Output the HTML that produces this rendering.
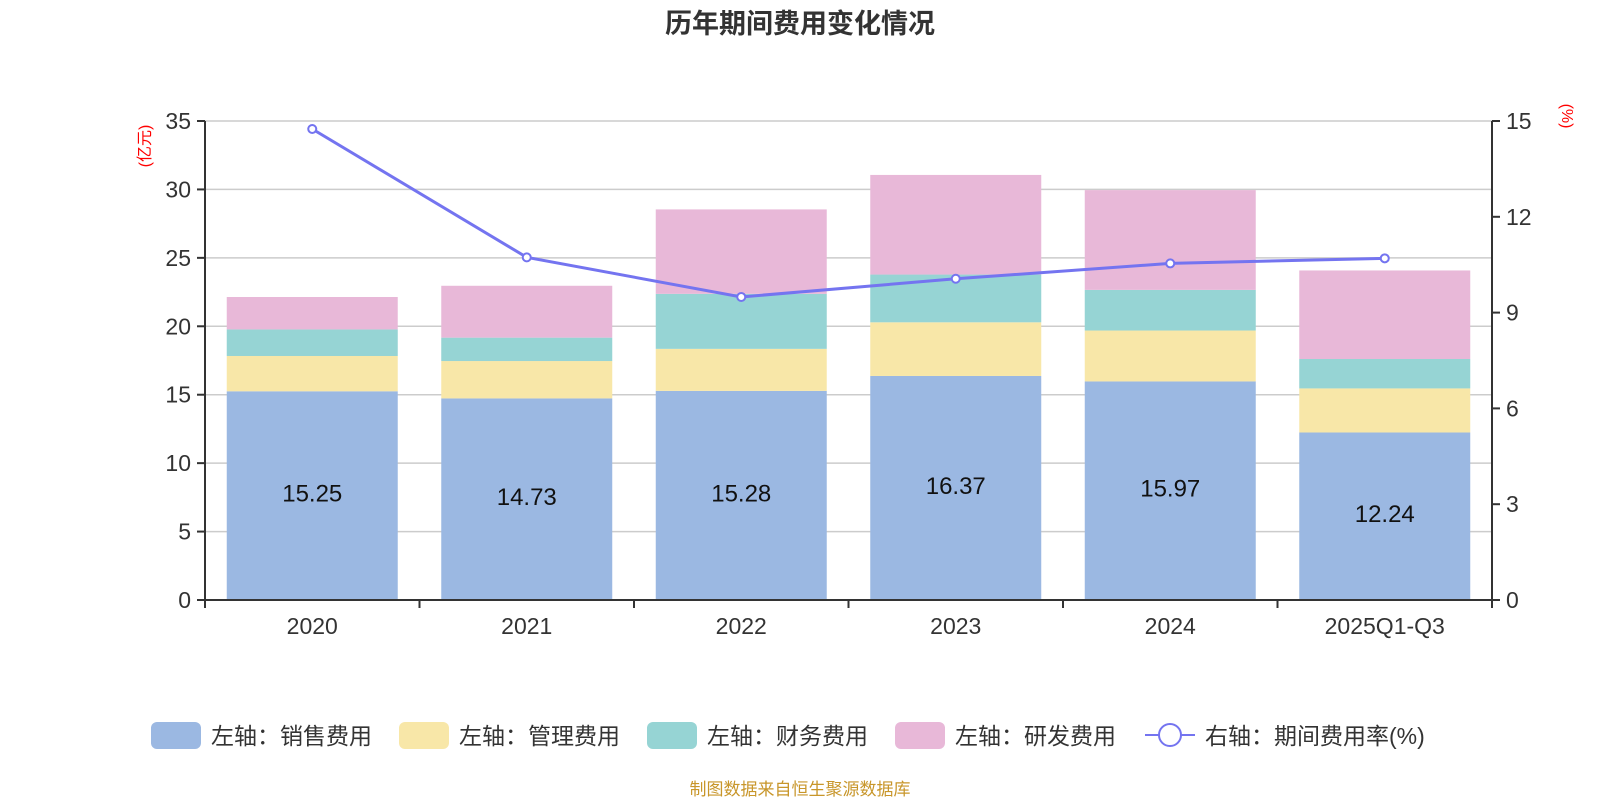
<!DOCTYPE html>
<html><head><meta charset="utf-8">
<style>
body{margin:0;background:#fff;font-family:"Liberation Sans","Noto Sans CJK SC",sans-serif;}
</style></head>
<body>
<svg id="c" width="1600" height="800" xmlns="http://www.w3.org/2000/svg" font-family="Liberation Sans, Noto Sans CJK SC, sans-serif"></svg>
<script>
const categories=["2020","2021","2022","2023","2024","2025Q1-Q3"];
const sales=[15.25,14.73,15.28,16.37,15.97,12.24];
const mgmt=[2.58,2.73,3.07,3.92,3.72,3.22];
const fin=[1.94,1.71,4.02,3.49,2.97,2.15];
const rd=[2.37,3.79,6.17,7.28,7.29,6.47];
const rate=[14.75,10.73,9.49,10.06,10.54,10.70];
const leftTicks=[0,5,10,15,20,25,30,35];
const rightTicks=[0,3,6,9,12,15];

const NS="http://www.w3.org/2000/svg";
const svg=document.getElementById('c');
const X0=205,X1=1492,Y0=600,Y1=121;
const band=(X1-X0)/categories.length;
const yL=v=>Y0-(v/35)*(Y0-Y1);
const yR=v=>Y0-(v/15)*(Y0-Y1);
const xC=i=>X0+band*(i+0.5);
function el(t,a,txt){const e=document.createElementNS(NS,t);for(const k in a)e.setAttribute(k,a[k]);if(txt!==undefined)e.textContent=txt;svg.appendChild(e);return e;}

let t=el('text',{x:800,y:33,'text-anchor':'middle','font-size':27,'font-weight':'bold',fill:'#333'},'历年期间费用变化情况');



leftTicks.forEach(v=>{
  const g=el('line',{x1:X0,x2:X1,y1:yL(v),y2:yL(v),stroke:'#ccc','stroke-width':1.5});
  
  
  el('line',{x1:X0-8,x2:X0,y1:yL(v),y2:yL(v),stroke:'#333','stroke-width':2});
  const l=el('text',{x:X0-14,y:yL(v)+8,'text-anchor':'end','font-size':23,fill:'#333'},v);
  
  
});
rightTicks.forEach(v=>{
  el('line',{x1:X1,x2:X1+8,y1:yR(v),y2:yR(v),stroke:'#333','stroke-width':2});
  const l=el('text',{x:X1+14,y:yR(v)+8,'text-anchor':'start','font-size':23,fill:'#333'},v);
  
  
});

const series=[[sales,'#9bb8e2','sales'],[mgmt,'#f8e7a8','mgmt'],[fin,'#96d4d4','finance'],[rd,'#e8b8d8','rd']];
categories.forEach((c,i)=>{
  let base=0;
  series.forEach(([arr,col,nm])=>{
    const r=el('rect',{x:xC(i)-85.5,width:171,y:yL(base+arr[i]),height:yL(base)-yL(base+arr[i]),fill:col});
    
    
    base+=arr[i];
  });
  const v=el('text',{x:xC(i),y:yL(sales[i]/2)+6,'text-anchor':'middle','font-size':24,fill:'#111'},sales[i].toFixed(2));
  
  
  const xl=el('text',{x:xC(i),y:Y0+34,'text-anchor':'middle','font-size':23,fill:'#333'},c);
  
  
});
for(let i=0;i<=categories.length;i++){el('line',{x1:X0+band*i,x2:X0+band*i,y1:Y0,y2:Y0+8,stroke:'#333','stroke-width':2});}
el('line',{x1:X0,x2:X0,y1:Y1,y2:Y0,stroke:'#333','stroke-width':2});
el('line',{x1:X1,x2:X1,y1:Y1,y2:Y0,stroke:'#333','stroke-width':2});
el('line',{x1:X0,x2:X1,y1:Y0,y2:Y0,stroke:'#333','stroke-width':2});

const pl=el('polyline',{points:rate.map((v,i)=>xC(i)+','+yR(v)).join(' '),fill:'none',stroke:'#7474f0','stroke-width':3});


rate.forEach((v,i)=>{
  const p=el('circle',{cx:xC(i),cy:yR(v),r:4,fill:'#fff',stroke:'#7474f0','stroke-width':2});
  
  
});

let a=el('text',{transform:'translate(150,146) rotate(-90)','text-anchor':'middle','font-size':16,fill:'red'},'(亿元)');


a=el('text',{transform:'translate(1562,116) rotate(90)','text-anchor':'middle','font-size':16,fill:'red'},'(%)');



const legend=[['左轴：销售费用','#9bb8e2',151],['左轴：管理费用','#f8e7a8',399],['左轴：财务费用','#96d4d4',647],['左轴：研发费用','#e8b8d8',895]];
legend.forEach(([txt,col,x])=>{
  const r=el('rect',{x:x,y:722,width:50,height:27,rx:6,fill:col});
  
  
  const l=el('text',{x:x+60,y:744,'font-size':23,fill:'#333'},txt);
  
  
});
el('line',{x1:1145,x2:1195,y1:735,y2:735,stroke:'#7474f0','stroke-width':2});
let lc=el('circle',{cx:1170,cy:735,r:11,fill:'#fff',stroke:'#7474f0','stroke-width':2});


let lt=el('text',{x:1205,y:744,'font-size':23,fill:'#333'},'右轴：期间费用率(%)');



let s=el('text',{x:800,y:795,'text-anchor':'middle','font-size':17,fill:'#c8962a'},'制图数据来自恒生聚源数据库');


</script>
</body></html>
